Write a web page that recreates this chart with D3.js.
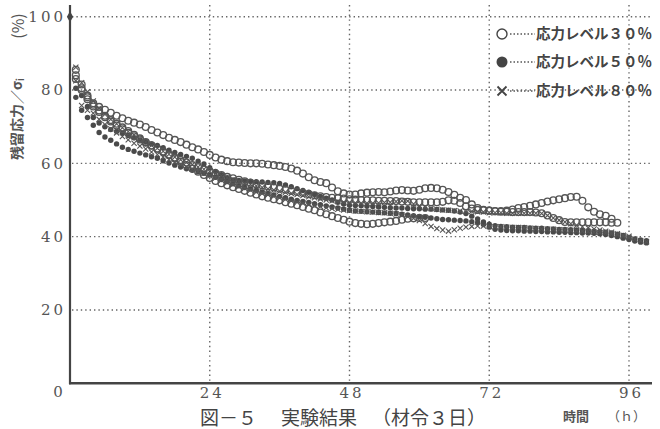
<!DOCTYPE html>
<html>
<head>
<meta charset="utf-8">
<script src="https://cdn.jsdelivr.net/npm/d3@7"></script>
<style>
  body { margin: 0; background: #fff; }
</style>
</head>
<body>
<div id="chart"></div>
<script>
// sampling times (h)
const hours = [1,2,3,4,5,6,7,8,9,10,11,12,13,14,15,16,17,18,19,20,
  21,22,23,24,25,26,27,28,29,30,31,32,33,34,35,36,37,38,39,40,
  41,42,43,44,45,46,47,48,49,50,51,52,53,54,55,56,57,58,59,60,
  61,62,63,64,65,66,67,68,69,70,71,72,73,74,75,76,77,78,79,80,
  81,82,83,84,85,86,87,88,89,90,91,92,93,94,95,96,97,98,99];

// 応力レベル30% (three specimens, open circles)
const lvl30a = [85.5,81.5,78.5,76.4,75.4,74.6,73.8,73.0,72.3,71.6,71.1,70.6,69.9,69.1,68.4,67.7,67.0,66.4,65.8,65.1,
  64.4,63.8,63.1,62.3,61.6,61.0,60.6,60.3,60.2,60.1,60.0,60.0,59.9,59.7,59.5,59.3,59.0,58.6,58.0,57.2,
  56.2,55.4,54.9,54.6,53.4,52.4,51.8,51.5,51.5,51.8,52.0,52.1,52.2,52.1,52.3,52.6,52.7,52.6,52.5,52.8,
  53.2,53.3,53.2,52.8,52.2,51.4,50.6,50.0,48.8,47.8,47.3,47.1,47.0,47.0,47.1,47.4,47.8,48.1,48.4,48.8,
  49.2,49.6,49.9,50.2,50.5,50.8,50.9,49.8,48.0,46.8,46.1,45.7,44.9,43.8];
const lvl30b = [84.0,80.0,77.5,75.5,74.0,72.6,71.4,70.3,69.3,68.3,67.4,66.5,65.6,64.8,64.0,63.2,62.4,61.6,60.9,60.2,
  59.5,58.9,58.3,57.8,57.3,56.8,56.3,55.9,55.5,55.1,54.7,54.3,54.0,53.7,53.4,53.1,52.8,52.5,52.2,51.9,
  51.6,51.3,51.0,50.8,50.6,50.5,50.4,50.2,50.1,50.0,49.9,49.9,49.8,49.8,49.7,49.7,49.6,49.5,49.4,49.4,
  49.4,49.4,49.4,49.5,49.9,49.8,49.2,48.3,47.7,47.3,47.2,47.1,46.9,46.8,46.8,46.7,46.7,46.7,46.7,46.6,
  46.4,45.8,45.1,44.5,44.0,43.9,43.9,43.9,43.9,43.9,43.9,43.9,43.8];
const lvl30c = [83.0,80.5,78.0,76.0,74.4,73.0,71.8,70.8,69.8,68.8,67.8,66.8,65.8,64.9,64.0,63.1,62.2,61.3,60.4,59.5,
  58.6,57.7,56.8,56.0,55.2,54.6,54.0,53.5,53.0,52.5,52.0,51.5,51.0,50.6,50.2,49.9,49.4,49.0,48.6,48.1,
  47.6,47.2,46.6,46.1,45.6,45.1,44.6,44.1,43.7,43.5,43.4,43.5,43.7,43.9,44.1,44.3,44.6,44.9,45.0,45.1,
  45.1];

// 応力レベル50% (filled circles)
const lvl50a = [80.5,78.5,75.5,72.5,71.0,70.0,69.2,68.7,68.2,67.6,67.0,66.4,65.8,65.3,64.9,64.3,63.6,63.0,62.4,61.9,
  61.4,60.6,59.8,58.8,57.8,56.9,56.1,55.5,55.3,55.2,55.1,55.0,54.9,54.8,54.7,54.5,54.1,53.6,53.1,52.6,
  52.1,51.5,51.0,50.5,50.0,49.4,48.9,48.6,48.5,48.4,48.3,48.2,48.1,48.0,47.9,47.8,47.8,47.7,47.6,47.6,
  47.5,47.5,47.4,47.3,47.2,47.0,46.7,46.3,45.6,44.8,44.0,43.4,43.0,42.8,42.7,42.6,42.5,42.5,42.4,42.3,
  42.3,42.2,42.1,42.0,42.0,41.9,41.8,41.7,41.6,41.5,41.4,41.2,41.0,40.7,40.3,39.8,39.4,39.1,38.9];
const lvl50b = [78.0,74.5,72.5,70.4,68.4,67.2,66.3,65.3,64.4,63.8,63.3,62.8,62.3,61.8,61.4,60.7,60.1,59.5,59.0,58.5,
  58.1,57.7,57.3,56.8,56.2,55.6,55.0,54.4,53.9,53.4,53.0,52.6,52.2,51.8,51.4,51.0,50.6,50.2,49.9,49.6,
  49.3,49.0,48.7,48.4,48.1,47.8,47.5,47.2,47.0,46.9,46.8,46.7,46.6,46.5,46.4,46.3,46.1,45.9,45.7,45.5,
  45.3,45.1,44.9,44.7,44.6,44.5,44.4,44.3,44.1,43.8,43.3,42.6,42.0,41.8,41.7,41.6,41.6,41.5,41.5,41.4,
  41.4,41.3,41.3,41.2,41.2,41.1,41.1,41.0,41.0,40.9,40.8,40.6,40.3,40.0,39.6,39.2,38.8,38.5,38.3];

// 応力レベル80% (crosses)
const lvl80a = [82.5,75.8,74.5,73.7,72.0,70.6,69.4,68.3,67.3,66.4,65.5,64.7,63.9,63.1,62.4,61.7,61.0,60.3,59.6,59.0,
  58.4,57.8,57.2,56.6,56.0,55.4,54.8,54.2,53.7,53.2,52.7,52.2,51.8,51.4,51.0,50.6,50.2,49.8,49.4,49.1,
  48.8,48.5,48.2,47.9,47.7,47.5,47.3,47.1,47.0,46.9,46.8,46.7,46.6,46.5,46.4,46.2,45.9,45.5,45.0,44.4,
  43.6,42.8,42.2,41.8,41.5,41.9,42.3,42.6,42.8,42.9,42.9,42.8,42.7,42.7,42.6,42.5,42.5,42.4,42.3,42.2,
  42.1,42.0,42.0,41.9,41.8,41.7,41.6,41.5,41.4,41.2,41.1,41.0,40.7,40.5,40.1,39.8,39.3,38.9,38.6];
const lvl80b = [86.2,82.0,79.5,77.0,75.0,73.4,72.0,70.8,69.7,68.7,67.7,66.7,65.8,64.9,64.1,63.3,62.5,61.7,61.0,60.3,
  59.6,59.0,58.4,57.8,57.2,56.6,56.1,55.6,55.1,54.6,54.2,53.8,53.4,53.0,52.7,52.4,52.1,51.8,51.5,51.2,
  50.9,50.6,50.3,50.0,49.8,49.6,49.4,49.3,49.2,49.1,49.1,49.1,49.2,49.3,49.4,49.6,49.8,49.7,48.9,48.4,
  48.0,47.7,47.5,47.3,47.2,47.1,47.0,46.9,46.9,46.8,46.7,46.5,46.5,46.5,46.4,46.4,46.4,46.4,46.4,46.4,
  46.3,45.8,45.1,44.5,44.0,43.5,43.1,42.7,42.4,42.1,41.8,41.5,41.2,40.8,40.4,40.1];

const yTicks = [20, 40, 60, 80, 100];
const xTicks = [24, 48, 72, 96];
const legendLabels = ["応力レベル３０％", "応力レベル５０％", "応力レベル８０％"];
const legendMarks = ["circle", "dot", "cross"];

const width = 660, height = 429;
const ink = "#4a4a4a";
const cjk = "'Noto Sans CJK JP', 'Noto Sans CJK SC', sans-serif";
const numFont = "'DejaVu Serif', serif";

const svg = d3.select("#chart").append("svg")
    .attr("width", width)
    .attr("height", height)
    .style("background", "#fff");

const x = d3.scaleLinear().domain([0, 96]).range([70, 629]);
const y = d3.scaleLinear().domain([0, 100]).range([383.3, 16.7]);

// dotted grid
svg.append("g").selectAll("line")
    .data(yTicks)
    .enter()
    .append("line")
    .attr("x1", 72).attr("x2", 652)
    .attr("y1", d => y(d)).attr("y2", d => y(d))
    .attr("stroke", "#666")
    .attr("stroke-width", 1.4)
    .attr("stroke-dasharray", "1.4,3");

svg.append("g").selectAll("line")
    .data(xTicks)
    .enter()
    .append("line")
    .attr("x1", d => x(d)).attr("x2", d => x(d))
    .attr("y1", 5).attr("y2", 382)
    .attr("stroke", "#666")
    .attr("stroke-width", 1.4)
    .attr("stroke-dasharray", "1.4,3.4");

// axes
const yAxis = svg.append("g")
    .attr("transform", `translate(${x(0)},0)`)
    .call(d3.axisLeft(y).tickValues(yTicks).tickSize(0).tickPadding(4));
yAxis.select(".domain").remove();
yAxis.selectAll("text")
    .attr("font-family", numFont)
    .attr("font-size", 15)
    .attr("letter-spacing", 3)
    .attr("fill", "#555");

const xAxis = svg.append("g")
    .attr("transform", `translate(0,${y(0)})`)
    .call(d3.axisBottom(x).tickValues(xTicks).tickSize(0).tickPadding(4));
xAxis.select(".domain").remove();
xAxis.selectAll("text")
    .attr("font-family", numFont)
    .attr("font-size", 15)
    .attr("letter-spacing", 3)
    .attr("dx", "2")
    .attr("fill", "#555");

svg.append("text")
    .attr("x", x(0) - 12)
    .attr("y", y(0) + 14)
    .attr("text-anchor", "middle")
    .attr("font-family", numFont)
    .attr("font-size", 15)
    .attr("fill", "#555")
    .text("0");

svg.append("line")
    .attr("x1", x(0)).attr("x2", x(0))
    .attr("y1", 5).attr("y2", y(0) + 1)
    .attr("stroke", "#444").attr("stroke-width", 2.2);
svg.append("line")
    .attr("x1", x(0) - 1).attr("x2", 652)
    .attr("y1", y(0)).attr("y2", y(0))
    .attr("stroke", "#444").attr("stroke-width", 2.6);

svg.append("path")
    .attr("d", d3.symbol().type(d3.symbolDiamond).size(34))
    .attr("transform", `translate(${x(0)},${y(100)})`)
    .attr("fill", "#444");

// markers
function drawDots(values) {
    svg.append("g").selectAll("circle")
        .data(values.map((v, i) => [hours[i], v]))
        .enter()
        .append("circle")
        .attr("cx", d => x(d[0]))
        .attr("cy", d => y(d[1]))
        .attr("r", 2.7)
        .attr("fill", ink);
}
function drawCrosses(values) {
    svg.append("g").selectAll("path")
        .data(values.map((v, i) => [hours[i], v]))
        .enter()
        .append("path")
        .attr("d", "M-2.6,-2.6L2.6,2.6M-2.6,2.6L2.6,-2.6")
        .attr("transform", d => `translate(${x(d[0])},${y(d[1])})`)
        .attr("stroke", "#555")
        .attr("stroke-width", 1.1)
        .attr("fill", "none");
}
function drawCircles(values) {
    svg.append("g").selectAll("circle")
        .data(values.map((v, i) => [hours[i], v]))
        .enter()
        .append("circle")
        .attr("cx", d => x(d[0]))
        .attr("cy", d => y(d[1]))
        .attr("r", 3.4)
        .attr("fill", "none")
        .attr("stroke", "#555")
        .attr("stroke-width", 1.3);
}

drawDots(lvl50a);
drawDots(lvl50b);
drawCrosses(lvl80a);
drawCrosses(lvl80b);
drawCircles(lvl30a);
drawCircles(lvl30b);
drawCircles(lvl30c);

// legend
const legendY = [34, 62, 91];
legendLabels.forEach((label, i) => {
    const g = svg.append("g").attr("transform", `translate(502,${legendY[i]})`);
    if (legendMarks[i] == "circle")
        g.append("circle").attr("r", 5).attr("fill", "#fff").attr("stroke", "#444").attr("stroke-width", 1.4);
    else if (legendMarks[i] == "dot")
        g.append("circle").attr("r", 5.5).attr("fill", "#444");
    else
        g.append("path").attr("d", "M-4.5,-4.5L4.5,4.5M-4.5,4.5L4.5,-4.5")
            .attr("stroke", "#444").attr("stroke-width", 1.8);
    g.append("line")
        .attr("x1", 8).attr("x2", 33)
        .attr("y1", 0).attr("y2", 0)
        .attr("stroke", "#555")
        .attr("stroke-width", 1.5)
        .attr("stroke-dasharray", "1.5,2");
    g.append("text")
        .attr("x", 34)
        .attr("y", 5)
        .attr("font-family", cjk)
        .attr("font-size", 14.5)
        .attr("font-weight", "bold")
        .attr("fill", "#444")
        .text(label);
});

// axis titles
const yTitle = svg.append("text")
    .attr("transform", "translate(22,119) rotate(-90)")
    .attr("text-anchor", "middle")
    .attr("font-family", cjk)
    .attr("font-size", 14)
    .attr("font-weight", "bold")
    .attr("fill", "#555");
yTitle.append("tspan").text("残留応力／σ");
yTitle.append("tspan").attr("font-size", 9).attr("dy", 2).text("i");

svg.append("text")
    .attr("transform", "translate(24,26) rotate(-90)")
    .attr("text-anchor", "middle")
    .attr("font-family", cjk)
    .attr("font-size", 16)
    .attr("fill", "#555")
    .text("(%)");

svg.append("text")
    .attr("x", 563).attr("y", 421)
    .attr("font-family", cjk)
    .attr("font-size", 13)
    .attr("font-weight", "bold")
    .attr("fill", "#555")
    .text("時間");
svg.append("text")
    .attr("x", 607).attr("y", 421)
    .attr("font-family", cjk)
    .attr("font-size", 13)
    .attr("fill", "#555")
    .text("（ｈ）");

// caption
const captionParts = [["図－５", 200], ["実験結果", 281], ["（材令３日）", 372]];
captionParts.forEach(p => {
    svg.append("text")
        .attr("x", p[1]).attr("y", 425)
        .attr("font-family", cjk)
        .attr("font-size", 19)
        .attr("fill", "#444")
        .text(p[0]);
});
</script>
</body>
</html>
